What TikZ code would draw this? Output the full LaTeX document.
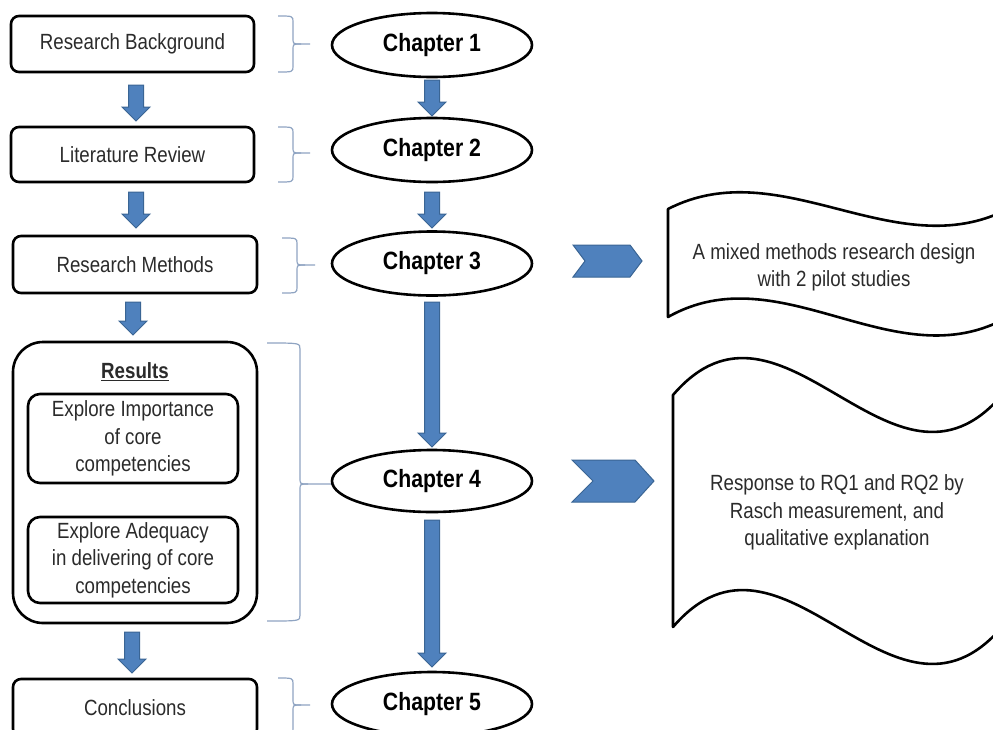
\documentclass[tikz,border=0pt]{standalone}
\usepackage{fontspec}
\setmainfont{Liberation Sans}[FakeStretch=0.85]
\usetikzlibrary{shapes.geometric}
\definecolor{arrowblue}{HTML}{4F81BD}
\definecolor{arrowedge}{HTML}{3A6594}
\definecolor{bracecol}{HTML}{8FA4C2}
\definecolor{txtgray}{HTML}{2B2B2B}
\newcommand\bdarrow[3]{%
  \filldraw[blockarrow] (#1-7.5,#2) -- (#1+7.5,#2) -- (#1+7.5,#3-14) -- (#1+14,#3-14)
    -- (#1,#3) -- (#1-14,#3-14) -- (#1-7.5,#3-14) -- cycle;}
% brace: xL xV xT yT yB yM
\newcommand\mybrace[6]{%
  \draw[bracepath] (#1,#4) .. controls (#2,#4) .. (#2,#4+6) -- (#2,#6-6)
    .. controls (#2,#6) .. (#2+8,#6) -- (#3,#6);
  \draw[bracepath] (#2+8,#6) .. controls (#2,#6) .. (#2,#6+6) -- (#2,#5-6)
    .. controls (#2,#5) .. (#1,#5);}
\begin{document}
\begin{tikzpicture}[x=1pt,y=-1pt,
  txt/.style={font=\fontsize{22}{27.5}\selectfont, text=txtgray, align=center},
  leftbox/.style={draw=black, line width=2.6pt, rounded corners=8pt, fill=white,
    inner sep=0pt, txt},
  innerbox/.style={draw=black, line width=2.6pt, rounded corners=12pt, inner sep=0pt,
    minimum width=210pt, txt},
  chap/.style={ellipse, draw=black, line width=2.6pt, fill=white, inner sep=0pt,
    minimum width=200pt, minimum height=64pt,
    font=\fontsize{25}{30}\selectfont\bfseries, text=black},
  blockarrow/.style={fill=arrowblue, draw=arrowedge, line width=1pt, line join=miter},
  bracepath/.style={draw=bracecol, line width=1.2pt},
  banner/.style={draw=black, line width=2.6pt, fill=white, line join=round},
  chevron/.style={fill=arrowblue, draw=arrowedge, line width=1pt}]
\clip (0,0) rectangle (993,729);
\fill[white] (0,0) rectangle (993,729);

% left column
\node[leftbox, minimum width=243pt, minimum height=56pt] (rb) at (132.5,44) {Research Background};
\node[leftbox, minimum width=243pt, minimum height=55pt] (lr) at (132.5,154.5) {Literature Review};
\node[leftbox, minimum width=244pt, minimum height=57pt] (rm) at (135,264.5) {Research Methods};
\node[draw=black, line width=2.6pt, rounded corners=30pt, minimum width=244pt,
  minimum height=281pt, inner sep=0pt] (res) at (135,482.5) {};
\node[font=\fontsize{22}{26}\selectfont\bfseries, text=txtgray] (restitle) at (135,372) {\underline{Results}};
\node[innerbox, minimum height=89pt] (imp) at (133,438.5) {Explore Importance\\of core\\competencies};
\node[innerbox, minimum height=86pt] (adq) at (133,560) {Explore Adequacy\\in delivering of core\\competencies};
\node[leftbox, minimum width=244pt, minimum height=58pt] (con) at (135,708) {Conclusions};

\bdarrow{136}{85}{121}
\bdarrow{136}{192}{228}
\bdarrow{133}{302}{335}
\bdarrow{132}{632}{673}

% braces
\mybrace{278}{293}{310}{16}{72}{44}
\mybrace{278}{293}{310}{127}{182}{153}
\mybrace{282}{297}{315}{238}{293}{265}
\mybrace{267}{300}{332}{343}{621}{484}
\mybrace{278}{293}{310}{678}{734}{705}

% chapters
\node[chap] (c1) at (432,45) {Chapter 1};
\node[chap] (c2) at (432,150) {Chapter 2};
\node[chap] (c3) at (432,263.5) {Chapter 3};
\node[chap, minimum height=62pt] (c4) at (432,481) {Chapter 4};
\node[chap] (c5) at (432,704) {Chapter 5};

\bdarrow{432}{80}{116}
\bdarrow{432}{192}{228}
\bdarrow{432}{302}{447}
\bdarrow{432}{520}{667}

% chevrons
\filldraw[chevron] (573,245) -- (630,245) -- (642,261) -- (630,277) -- (573,277) -- (585,261) -- cycle;
\filldraw[chevron] (572,460) -- (635,460) -- (654,481) -- (635,502) -- (572,502) -- (593,481) -- cycle;

% banners
\filldraw[banner] (668,209) .. controls (781.3,151) and (894.7,267) .. (1008,209)
  -- (1008,317) .. controls (894.7,381) and (781.3,253) .. (668,317) -- cycle;
\node[txt] (b1) at (834,267.5) {A mixed methods research design\\with 2 pilot studies};

\filldraw[banner] (673,395) .. controls (782.7,267) and (892.3,523) .. (1002,395)
  -- (1002,627) .. controls (892.3,755) and (782.7,499) .. (673,627) -- cycle;
\node[txt] (b2) at (837,512.5) {Response to RQ1 and RQ2 by\\Rasch measurement, and\\qualitative explanation};
\end{tikzpicture}
\end{document}
